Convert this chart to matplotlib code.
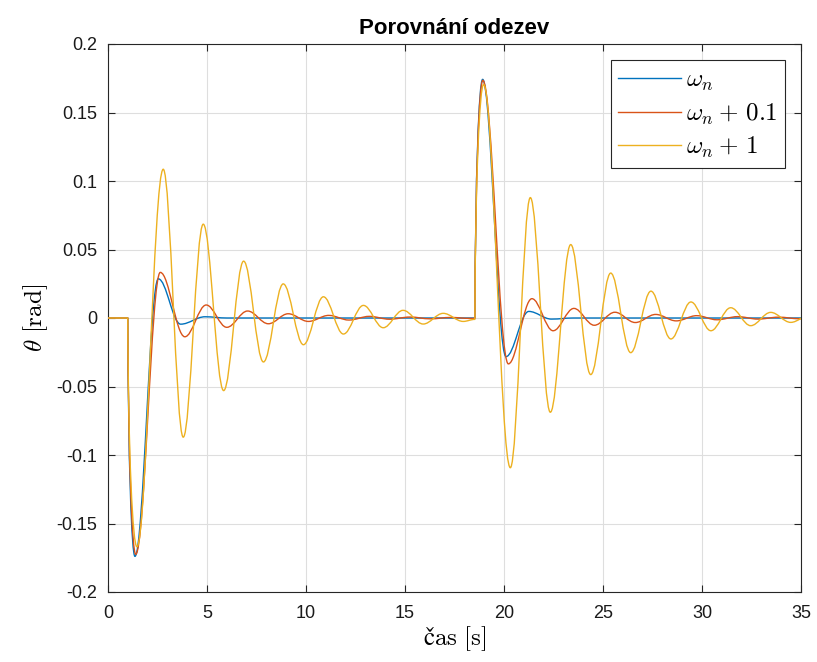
import matplotlib
matplotlib.use('Agg')
import matplotlib.pyplot as plt
from matplotlib.path import Path
from matplotlib.patches import PathPatch
from matplotlib.lines import Line2D

plt.rcParams['mathtext.fontset'] = 'cm'
plt.rcParams['font.family'] = ['Liberation Sans', 'DejaVu Sans']

# ---- data: turning points (time [s], theta [rad]) ----
onset_times = [1.0, 18.53]

t_wn = [0.0, 1.0, 1.36, 2.54, 3.67, 4.9, 6.0, 18.53, 18.92, 20.1, 21.25, 22.4, 23.5, 35.0]
y_wn = [0.0, 0.0, -0.174, 0.0286, -0.0045, 0.0009, 0.0, 0.0, 0.1742, -0.0282, 0.0048, -0.0008, 0.0, 0.0]

t_wn01 = [0.0, 1.0, 1.40, 2.64, 3.88, 4.96, 6.0, 7.05, 8.1, 9.1, 10.12, 11.15, 12.17, 13.2, 14.22,
          15.25, 16.28, 17.3, 18.3, 18.53, 18.93, 20.22, 21.41, 22.48, 23.53, 24.56, 25.6, 26.63,
          27.66, 28.7, 29.73, 30.76, 31.8, 32.83, 33.86, 34.9, 35.93]
y_wn01 = [0.0, 0.0, -0.1725, 0.0333, -0.0137, 0.0095, -0.0068, 0.0051, -0.0042, 0.0031, -0.0025,
          0.0019, -0.0015, 0.0012, -0.0009, 0.0007, -0.0006, 0.0004, -0.0003, -0.0002, 0.1735,
          -0.0335, 0.0141, -0.0093, 0.0070, -0.0053, 0.0042, -0.0033, 0.0026, -0.0021, 0.0017,
          -0.0013, 0.0010, -0.0008, 0.0006, -0.0005, 0.0004]

t_wn1 = [0.0, 1.0, 1.46, 2.79, 3.80, 4.81, 5.84, 6.85, 7.85, 8.85, 9.87, 10.88, 11.89, 12.9, 13.9,
         14.9, 15.92, 16.93, 17.94, 18.53, 18.97, 20.32, 21.33, 22.34, 23.37, 24.38, 25.39, 26.40,
         27.42, 28.43, 29.44, 30.45, 31.45, 32.46, 33.47, 34.48, 35.49]
y_wn1 = [0.0, 0.0, -0.167, 0.1086, -0.087, 0.0685, -0.053, 0.0415, -0.0321, 0.0249, -0.0195,
         0.0155, -0.0117, 0.0092, -0.0071, 0.0056, -0.0044, 0.0034, -0.0025, -0.001, 0.1705,
         -0.1093, 0.0879, -0.0688, 0.0536, -0.0413, 0.0328, -0.0253, 0.0196, -0.0153, 0.0117,
         -0.0093, 0.0075, -0.0056, 0.0041, -0.0032, 0.0025]

labels = [r'$\omega_n$', r'$\omega_n + \, 0.1$', r'$\omega_n + \, 1$']
colors = ['#0072BD', '#D95319', '#EDB120']

x_ticks = [0, 5, 10, 15, 20, 25, 30, 35]
y_ticks = [-0.2, -0.15, -0.1, -0.05, 0, 0.05, 0.1, 0.15, 0.2]
y_ticklabels = ['-0.2', '-0.15', '-0.1', '-0.05', '0', '0.05', '0.1', '0.15', '0.2']

title = 'Porovnání odezev'
xlabel = r'$\mathrm{čas}\ [\mathrm{s}]$'
ylabel = r'$\theta\ [\mathrm{rad}]$'


def smooth_path(t, y, onsets):
    """Smooth curve through turning points (horizontal tangents), steep start at onsets."""
    verts = [(t[0], y[0])]
    codes = [Path.MOVETO]
    for i in range(len(t) - 1):
        t0, y0, t1, y1 = t[i], y[i], t[i + 1], y[i + 1]
        dt = t1 - t0
        if any(abs(t0 - o) < 1e-9 for o in onsets):
            c1 = (t0 + 0.05 * dt, y0 + 0.6 * (y1 - y0))
            c2 = (t1 - 0.45 * dt, y1)
        else:
            c1 = (t0 + 0.3642 * dt, y0)
            c2 = (t1 - 0.3642 * dt, y1)
        verts += [c1, c2, (t1, y1)]
        codes += [Path.CURVE4] * 3
    return Path(verts, codes)


fig = plt.figure(figsize=(8.17, 6.62), dpi=100)
ax = fig.add_axes([108 / 817, 1 - 592 / 662, 693 / 817, 548 / 662])

series = [(t_wn, y_wn), (t_wn01, y_wn01), (t_wn1, y_wn1)]
handles = []
for (t, y), c, lab in zip(series, colors, labels):
    patch = PathPatch(smooth_path(t, y, onset_times), facecolor='none', edgecolor=c,
                      lw=1.0, transform=ax.transData, zorder=3, joinstyle='round')
    ax.add_patch(patch)
    handles.append(Line2D([], [], color=c, lw=1.0, label=lab))

ax.set_xlim(0, 35)
ax.set_ylim(-0.2, 0.2)
ax.set_xticks(x_ticks)
ax.set_xticklabels([str(v) for v in x_ticks])
ax.set_yticks(y_ticks)
ax.set_yticklabels(y_ticklabels)

ax.grid(True, color='#dedede', lw=0.8, zorder=0)
ax.set_axisbelow(True)
for s in ax.spines.values():
    s.set_color('#262626')
    s.set_linewidth(0.8)
ax.tick_params(direction='in', length=5, width=0.8, top=True, right=True,
               labelsize=13, colors='#262626', labelcolor='#1a1a1a')
ax.tick_params(axis='x', pad=9)
ax.tick_params(axis='y', pad=8)

ax.set_title(title, fontsize=16, fontweight='bold', pad=7)
ax.set_xlabel(xlabel, fontsize=18, labelpad=2)
ax.set_ylabel(ylabel, fontsize=18, labelpad=4)

leg = ax.legend(handles=handles, loc='upper right', fontsize=18, frameon=True, fancybox=False,
                framealpha=1, edgecolor='#262626', borderaxespad=0.65, handlelength=2.5,
                handletextpad=0.2, labelspacing=0.33, borderpad=0.3)
leg.get_frame().set_linewidth(0.8)

fig.savefig('out.png', dpi=100)
